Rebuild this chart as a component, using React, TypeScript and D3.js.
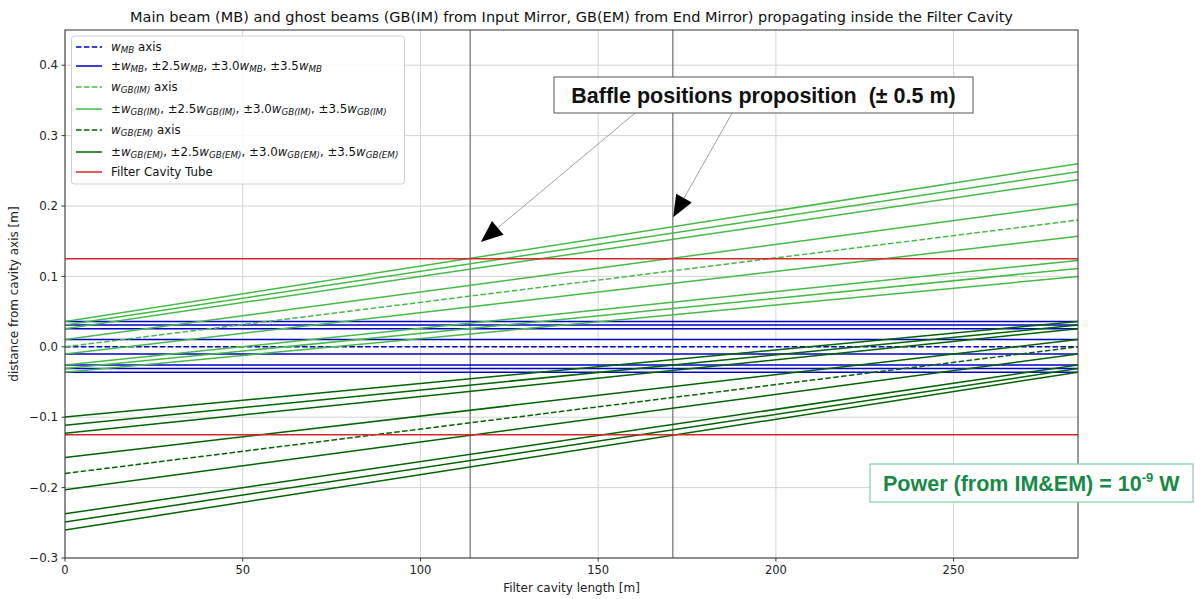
import * as React from 'react'
import * as d3 from 'd3'

// cavity positions where the beam envelopes were read (m)
const zEnds = [0, 285]
// beam axes and 1/e^2 radii at both ends (m)
const mbAxis = [0, 0]
const mbWidth = [0.0103, 0.0103]
const gbImAxis = [0, 0.18]
const gbImWidth = [0.0103, 0.0229]
const gbEmAxis = [-0.18, 0]
const gbEmWidth = [0.0229, 0.0103]
const widthMultipliers = [1, 2.5, 3.0, 3.5]
const tubeRadius = 0.125
const bafflePositions = [114, 171]
const xTicks = [0, 50, 100, 150, 200, 250]
const yTicks = [-0.3, -0.2, -0.1, 0.0, 0.1, 0.2, 0.3, 0.4]

const W = 1195
const H = 599
const margin = { left: 65, right: 117, top: 30, bottom: 41 }

const BLUE = '#0000cd'
const LGREEN = '#44bb44'
const DGREEN = '#006400'
const RED = '#d62728'
const DASH = '5.5,2.4'
const FONT = 'DejaVu Sans, sans-serif'

type Seg = { t: string; sub?: string }

const MathText = ({ x, y, segs, size }: { x: number; y: number; segs: Seg[]; size: number }) => {
    const parts: JSX.Element[] = []
    let down = false
    segs.forEach((s, i) => {
        const back = down ? -3 : undefined
        if (!s.sub) {
            parts.push(<tspan key={i + 'a'} dy={back}>{s.t}</tspan>)
            down = false
        } else {
            parts.push(<tspan key={i + 'w'} dy={back} fontStyle='italic'>{s.t}</tspan>)
            parts.push(<tspan key={i + 's'} fontStyle='italic' fontSize={size * 0.74} dy={3}>{s.sub}</tspan>)
            down = true
        }
    })
    return <text x={x} y={y} fontSize={size} fontFamily={FONT} dominantBaseline='middle' fill='#111'>{parts}</text>
}

const multiSegs = (sub: string): Seg[] => [
    { t: '±' }, { t: 'w', sub }, { t: ', ±2.5' }, { t: 'w', sub },
    { t: ', ±3.0' }, { t: 'w', sub }, { t: ', ±3.5' }, { t: 'w', sub },
]

export default function App() {
    const x = d3.scaleLinear().domain([0, 285]).range([margin.left, W - margin.right])
    const y = d3.scaleLinear().domain([-0.3, 0.45]).range([H - margin.bottom, margin.top])
    const line = d3.line<[number, number]>().x(d => x(d[0])).y(d => y(d[1]))

    const beam = (axis: number[], width: number[], color: string, key: string) => {
        const out: JSX.Element[] = []
        out.push(<path key={key + 'ax'} d={line(zEnds.map((z, i) => [z, axis[i]]))!}
            stroke={color} strokeWidth={1.5} strokeDasharray={DASH} fill='none' />)
        widthMultipliers.forEach(k => {
            [1, -1].forEach(s => {
                out.push(<path key={key + k + s}
                    d={line(zEnds.map((z, i) => [z, axis[i] + s * k * width[i]]))!}
                    stroke={color} strokeWidth={1.5} fill='none' />)
            })
        })
        return out
    }

    const x0 = margin.left, x1 = W - margin.right
    const y0 = margin.top, y1 = H - margin.bottom

    const legendRows: { dash: boolean; color: string; segs: Seg[] }[] = [
        { dash: true, color: BLUE, segs: [{ t: 'w', sub: 'MB' }, { t: ' axis' }] },
        { dash: false, color: BLUE, segs: multiSegs('MB') },
        { dash: true, color: LGREEN, segs: [{ t: 'w', sub: 'GB(IM)' }, { t: ' axis' }] },
        { dash: false, color: LGREEN, segs: multiSegs('GB(IM)') },
        { dash: true, color: DGREEN, segs: [{ t: 'w', sub: 'GB(EM)' }, { t: ' axis' }] },
        { dash: false, color: DGREEN, segs: multiSegs('GB(EM)') },
        { dash: false, color: RED, segs: [{ t: 'Filter Cavity Tube' }] },
    ]
    const legendY = [47, 66, 87, 109, 130, 152, 172]

    // annotation arrows (data coords)
    const arrows = [
        { from: [160.4, 0.332], to: [117.0, 0.149] },
        { from: [187.7, 0.332], to: [171.1, 0.184] },
    ]

    return <div style={{ position: 'absolute', left: 0, top: 0 }}>
        <svg width={W} height={H} style={{ display: 'block', background: '#fff' }}>
            <defs>
                <clipPath id='plot'><rect x={x0} y={y0} width={x1 - x0} height={y1 - y0} /></clipPath>
            </defs>
            {/* grid */}
            {xTicks.map(t => <line key={'gx' + t} x1={x(t)} x2={x(t)} y1={y0} y2={y1} stroke='#d4d4d4' strokeWidth={1} />)}
            {yTicks.map(t => <line key={'gy' + t} x1={x0} x2={x1} y1={y(t)} y2={y(t)} stroke='#d4d4d4' strokeWidth={1} />)}
            {bafflePositions.map(b => <line key={'b' + b} x1={x(b)} x2={x(b)} y1={y0} y2={y1} stroke='#7a7a7a' strokeWidth={1.3} />)}

            <g clipPath='url(#plot)'>
                {beam(mbAxis, mbWidth, BLUE, 'mb')}
                {beam(gbImAxis, gbImWidth, LGREEN, 'im')}
                {beam(gbEmAxis, gbEmWidth, DGREEN, 'em')}
                {[tubeRadius, -tubeRadius].map(r => <line key={'t' + r} x1={x0} x2={x1} y1={y(r)} y2={y(r)} stroke={RED} strokeWidth={1.5} />)}
            </g>

            {/* frame */}
            <rect x={x0} y={y0} width={x1 - x0} height={y1 - y0} fill='none' stroke='#333' strokeWidth={1} />

            {/* ticks */}
            {xTicks.map(t => <g key={'xt' + t}>
                <line x1={x(t)} x2={x(t)} y1={y1} y2={y1 + 3.5} stroke='#333' />
                <text x={x(t)} y={y1 + 16} textAnchor='middle' fontSize={11.5} fontFamily={FONT} fill='#222'>{t}</text>
            </g>)}
            {yTicks.map(t => <g key={'yt' + t}>
                <line x1={x0 - 3.5} x2={x0} y1={y(t)} y2={y(t)} stroke='#333' />
                <text x={x0 - 7} y={y(t)} dy='0.35em' textAnchor='end' fontSize={11.8} fontFamily={FONT} fill='#222'>
                    {d3.format('.1f')(t).replace('-', '\u2212')}
                </text>
            </g>)}

            <text x={(x0 + x1) / 2} y={592} textAnchor='middle' fontSize={12} fontFamily={FONT} fill='#222'>Filter cavity length [m]</text>
            <text transform={`translate(18, ${(y0 + y1) / 2}) rotate(-90)`} textAnchor='middle' fontSize={12} fontFamily={FONT} fill='#222'>distance from cavity axis [m]</text>
            <text x={(x0 + x1) / 2} y={22} textAnchor='middle' fontSize={14.5} fontFamily={FONT} fill='#111'>
                Main beam (MB) and ghost beams (GB(IM) from Input Mirror, GB(EM) from End Mirror) propagating inside the Filter Cavity
            </text>

            {/* legend */}
            <rect x={71.5} y={36} width={333} height={148} rx={3} fill='#fff' fillOpacity={0.85} stroke='#d0d0d0' />
            {legendRows.map((r, i) => <g key={'lg' + i}>
                <line x1={76} x2={102} y1={legendY[i]} y2={legendY[i]} stroke={r.color} strokeWidth={1.5}
                    strokeDasharray={r.dash ? DASH : undefined} />
                <MathText x={111} y={legendY[i]} segs={r.segs} size={11.8} />
            </g>)}

            {/* baffle annotation */}
            {arrows.map((a, i) => {
                const fx = x(a.from[0]), fy = y(a.from[1]), tx = x(a.to[0]), ty = y(a.to[1])
                const ang = Math.atan2(ty - fy, tx - fx)
                const hl = 22, hw = 9
                const bx = tx - hl * Math.cos(ang), by = ty - hl * Math.sin(ang)
                const px = -Math.sin(ang) * hw, py = Math.cos(ang) * hw
                return <g key={'ar' + i}>
                    <line x1={fx} y1={fy} x2={bx} y2={by} stroke='#888' strokeWidth={0.8} />
                    <polygon points={`${tx},${ty} ${bx + px},${by + py} ${bx - px},${by - py}`} fill='#000' />
                </g>
            })}
            <rect x={554} y={77} width={419} height={36} fill='#fff' stroke='#555' strokeWidth={1} />
            <text x={763.5} y={103} textAnchor='middle' fontSize={21.5} fontWeight='bold' fontFamily='Liberation Sans, Arial, sans-serif' fill='#111'>
                Baffle positions proposition{'\u00a0\u00a0'}(± 0.5 m)
            </text>

            {/* power box */}
            <rect x={870} y={464} width={323} height={38} fill='#fff' stroke='#7fd0a8' strokeWidth={1.2} />
            <text x={883} y={491} fontSize={21.5} fontWeight='bold' fontFamily='Liberation Sans, Arial, sans-serif' fill='#178a47'>
                Power (from IM&amp;EM) = 10<tspan fontSize={13} dy={-9}>-9</tspan><tspan dy={9}> W</tspan>
            </text>
        </svg>
    </div>
}
